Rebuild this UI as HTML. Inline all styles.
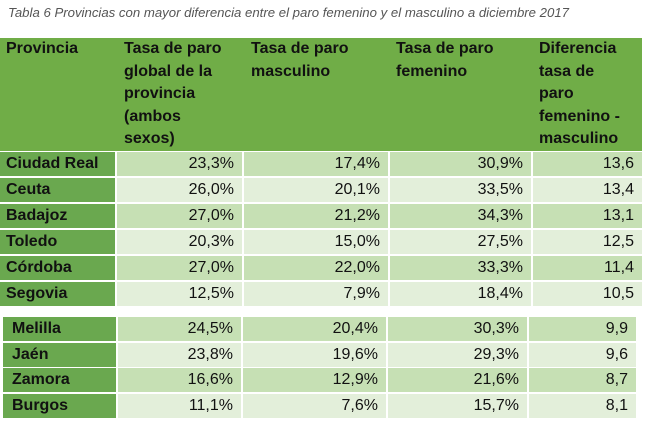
<!DOCTYPE html>
<html><head><meta charset="utf-8"><style>
body{margin:0;width:650px;height:429px;background:#fff;position:relative;overflow:hidden;font-family:"Liberation Sans",sans-serif;}
.t{position:absolute;left:8px;top:5px;font-style:italic;font-size:13.2px;color:#555;white-space:nowrap}
.c{position:absolute;box-sizing:border-box;font-size:16px;color:#111;line-height:24px;height:24px;text-align:right;padding-right:8px;white-space:nowrap}
.h{position:absolute;top:38px;height:113px;background:#70ad47;font-weight:bold;font-size:16px;line-height:22.6px;color:#111;padding:0 6px;box-sizing:border-box;overflow:hidden}
.p{background:#6aa84f;font-weight:bold;text-align:left;padding-left:6px}
.o{background:#c6e0b4}.e{background:#e3efda}
</style></head><body>
<div class="t">Tabla 6 Provincias con mayor diferencia entre el paro femenino y el masculino a diciembre 2017</div>
<div class="h" style="left:0;width:642px"></div>
<div class="h" style="left:0;width:116px;background:none">Provincia</div>
<div class="h" style="left:118px;width:124px;background:none">Tasa de paro<br>global de la<br>provincia<br>(ambos<br>sexos)</div>
<div class="h" style="left:245px;width:140px;background:none">Tasa de paro<br>masculino</div>
<div class="h" style="left:390px;width:140px;background:none">Tasa de paro<br>femenino</div>
<div class="h" style="left:533px;width:109px;background:none">Diferencia<br>tasa de<br>paro<br>femenino -<br>masculino</div>

<div class="c p" style="left:0;width:115px;top:152px">Ciudad Real</div><div class="c o" style="left:117px;width:125px;top:152px">23,3%</div><div class="c o" style="left:244px;width:144px;top:152px">17,4%</div><div class="c o" style="left:390px;width:141px;top:152px">30,9%</div><div class="c o" style="left:533px;width:109px;top:152px">13,6</div>
<div class="c p" style="left:0;width:115px;top:178px">Ceuta</div><div class="c e" style="left:117px;width:125px;top:178px">26,0%</div><div class="c e" style="left:244px;width:144px;top:178px">20,1%</div><div class="c e" style="left:390px;width:141px;top:178px">33,5%</div><div class="c e" style="left:533px;width:109px;top:178px">13,4</div>
<div class="c p" style="left:0;width:115px;top:204px">Badajoz</div><div class="c o" style="left:117px;width:125px;top:204px">27,0%</div><div class="c o" style="left:244px;width:144px;top:204px">21,2%</div><div class="c o" style="left:390px;width:141px;top:204px">34,3%</div><div class="c o" style="left:533px;width:109px;top:204px">13,1</div>
<div class="c p" style="left:0;width:115px;top:230px">Toledo</div><div class="c e" style="left:117px;width:125px;top:230px">20,3%</div><div class="c e" style="left:244px;width:144px;top:230px">15,0%</div><div class="c e" style="left:390px;width:141px;top:230px">27,5%</div><div class="c e" style="left:533px;width:109px;top:230px">12,5</div>
<div class="c p" style="left:0;width:115px;top:256px">Córdoba</div><div class="c o" style="left:117px;width:125px;top:256px">27,0%</div><div class="c o" style="left:244px;width:144px;top:256px">22,0%</div><div class="c o" style="left:390px;width:141px;top:256px">33,3%</div><div class="c o" style="left:533px;width:109px;top:256px">11,4</div>
<div class="c p" style="left:0;width:115px;top:282px">Segovia</div><div class="c e" style="left:117px;width:125px;top:282px">12,5%</div><div class="c e" style="left:244px;width:144px;top:282px">7,9%</div><div class="c e" style="left:390px;width:141px;top:282px">18,4%</div><div class="c e" style="left:533px;width:109px;top:282px">10,5</div>

<div class="c p" style="left:3px;width:113px;top:317px;padding-left:9px">Melilla</div><div class="c o" style="left:118px;width:123px;top:317px">24,5%</div><div class="c o" style="left:243px;width:143px;top:317px">20,4%</div><div class="c o" style="left:388px;width:139px;top:317px">30,3%</div><div class="c o" style="left:529px;width:107px;top:317px">9,9</div>
<div class="c p" style="left:3px;width:113px;top:343px;padding-left:9px">Jaén</div><div class="c e" style="left:118px;width:123px;top:343px">23,8%</div><div class="c e" style="left:243px;width:143px;top:343px">19,6%</div><div class="c e" style="left:388px;width:139px;top:343px">29,3%</div><div class="c e" style="left:529px;width:107px;top:343px">9,6</div>
<div class="c p" style="left:3px;width:113px;top:368px;padding-left:9px">Zamora</div><div class="c o" style="left:118px;width:123px;top:368px">16,6%</div><div class="c o" style="left:243px;width:143px;top:368px">12,9%</div><div class="c o" style="left:388px;width:139px;top:368px">21,6%</div><div class="c o" style="left:529px;width:107px;top:368px">8,7</div>
<div class="c p" style="left:3px;width:113px;top:394px;padding-left:9px">Burgos</div><div class="c e" style="left:118px;width:123px;top:394px">11,1%</div><div class="c e" style="left:243px;width:143px;top:394px">7,6%</div><div class="c e" style="left:388px;width:139px;top:394px">15,7%</div><div class="c e" style="left:529px;width:107px;top:394px">8,1</div>
</body></html>
